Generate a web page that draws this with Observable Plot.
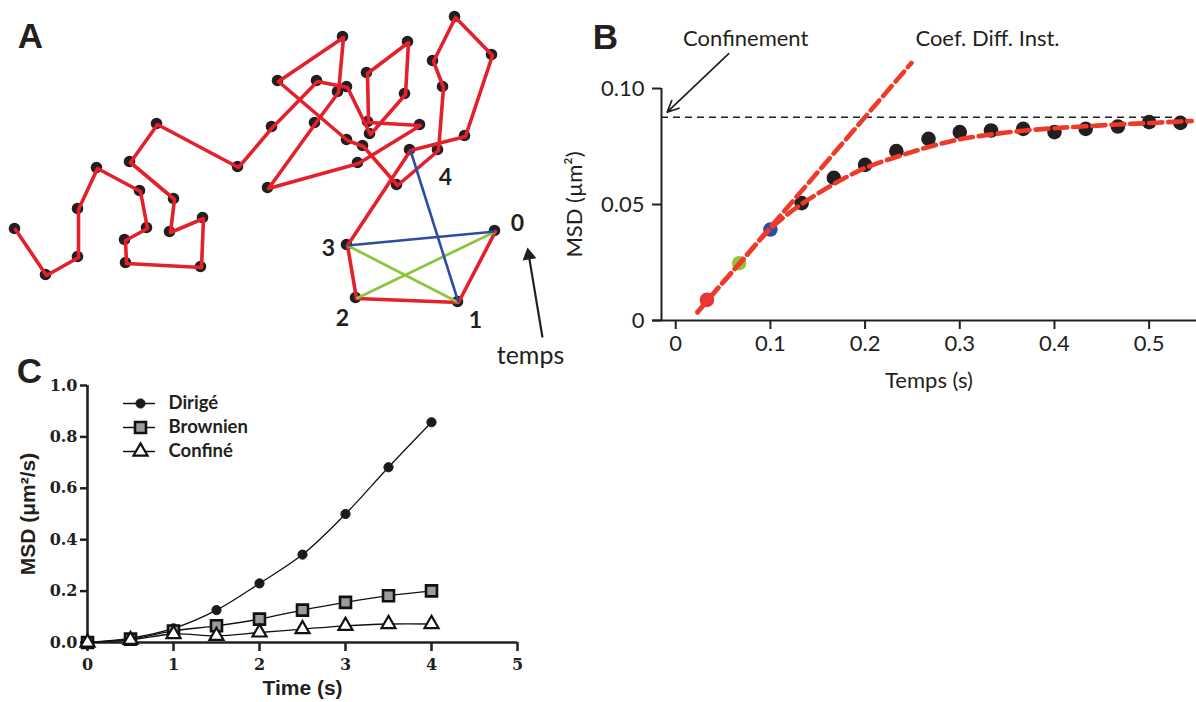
<!DOCTYPE html>
<html>
<head>
<meta charset="utf-8">
<script src="https://cdn.jsdelivr.net/npm/d3@7"></script>
<script src="https://cdn.jsdelivr.net/npm/@observablehq/plot@0.6"></script>
<style>
  html,body{margin:0;padding:0;background:#fff;}
  #fig{position:relative;width:1196px;height:702px;overflow:hidden;background:#fff;}
  #fig svg{position:absolute;overflow:visible;max-width:none;}
</style>
</head>
<body>
<div id="fig"></div>
<script>
// ---------------- DATA ----------------
// Panel A: trajectory positions (image units)
const trajX = [15,46,78,78,97,140,147,125,126,201,203,170,174,130,157,238,272,317,347,370,405,408,367,368,420,358,268,315,338,343,278,347,363,397,438,443,433,455,492,465,410,347,356,458,495];
const trajY = [229,275,257,209,168,191,228,240,263,267,218,232,199,162,124,167,127,81,87,134,94,42,73,122,125,163,188,123,92,37,81,140,146,185,150,87,61,17,55,136,150,245,298,302,231];
const stepNames = ["0","1","2","3","4"];
const stepIndex = [44,43,42,41,40];
const greenPairs = [[41,43],[42,44]];
const bluePairs = [[40,43],[41,44]];
const timeArrowX = [542,527];
const timeArrowY = [337,247];
const timeLabel = "temps";

// Panel B: MSD vs time
const bTime = [0.033,0.067,0.1,0.133,0.167,0.2,0.233,0.267,0.3,0.333,0.367,0.4,0.433,0.467,0.5,0.533];
const bMSD  = [0.0089,0.0247,0.0392,0.0506,0.0615,0.0671,0.073,0.0783,0.0812,0.0819,0.0826,0.0812,0.0826,0.0836,0.0855,0.0852];
const fitTime = [0.023,0.05,0.075,0.1,0.133,0.167,0.2,0.233,0.267,0.3,0.333,0.367,0.4,0.433,0.467,0.5,0.533,0.545];
const fitMSD  = [0.0036,0.0165,0.028,0.0395,0.0502,0.0588,0.0657,0.0705,0.0748,0.0781,0.0802,0.0818,0.0829,0.0837,0.0845,0.0851,0.0858,0.086];
const tanTime = [0.023,0.249];
const tanMSD  = [0.0036,0.111];
const confLevel = 0.0876;
const confArrowTime = [0.056,-0.009];
const confArrowMSD  = [0.115,0.0898];
const bXTicks = [0,0.1,0.2,0.3,0.4,0.5];
const bYTicks = [0,0.05,0.1];

// Panel C: MSD for three motion types
const cTime = [0,0.5,1,1.5,2,2.5,3,3.5,4];
const cSeries = ["Dirigé","Brownien","Confiné"];
const cDirige   = [0,0.017,0.055,0.126,0.23,0.342,0.5,0.682,0.857];
const cBrownien = [0,0.013,0.045,0.065,0.091,0.126,0.156,0.182,0.201];
const cConfine  = [0,0.01,0.033,0.026,0.039,0.052,0.065,0.072,0.072];
const cXTicks = [0,1,2,3,4,5];
const cYTicks = [0,0.2,0.4,0.6,0.8,1.0];

// ---------------- STYLES ----------------
const INK = "#231f20";
const RED = "#e4202a";
const FITRED = "#ee3a28";
const GREEN = "#8cc63f";
const BLUE = "#2d4ca3";
const bHighlight = ["#e83336", GREEN, BLUE];
const panelFont = "Liberation Sans";
const seriesStyle = {
  "Dirigé":   {symbol:"circle",   fill:"#1a1a1a", stroke:"#1a1a1a", r:4.6, sw:1},
  "Brownien": {symbol:"square",   fill:"#9b9b9b", stroke:"#111",    r:6.2, sw:2.6},
  "Confiné":  {symbol:"triangle", fill:"#ffffff", stroke:"#111",    r:5.2, sw:2.2}
};
const labelOffsets = [[22,-8],[17,18],[-14,20],[-19,3],[35,27]];
const centered = {textAnchor:"middle", lineAnchor:"middle"};

const fig = document.getElementById("fig");
function place(svg, left, top){ svg.style.left = left+"px"; svg.style.top = top+"px"; fig.appendChild(svg); }

// ---------------- PANEL A ----------------
const traj = trajX.map((x,i)=>({x, y:trajY[i]}));
const toLinks = pairs => pairs.map(([a,b])=>({x1:trajX[a],y1:trajY[a],x2:trajX[b],y2:trajY[b]}));
const ax = timeArrowX, ay = timeArrowY;
const alen = Math.hypot(ax[1]-ax[0], ay[1]-ay[0]);
const ux = (ax[1]-ax[0])/alen, uy = (ay[1]-ay[0])/alen;
const headAngle = Math.atan2(ux, -uy)*180/Math.PI;

const plotA = Plot.plot({
  width: 600, height: 380, margin: 0,
  x: {domain:[0,600], axis:null},
  y: {domain:[0,380], reverse:true, axis:null},
  style: {background:"transparent", overflow:"visible", color: INK},
  marks: [
    Plot.dot(traj, {x:"x", y:"y", r:5.8, fill:INK, dx:-1, dy:-1}),
    Plot.line(traj, {x:"x", y:"y", stroke:RED, strokeWidth:3.6, strokeLinejoin:"round"}),
    Plot.link(toLinks(greenPairs), {x1:"x1", y1:"y1", x2:"x2", y2:"y2", stroke:GREEN, strokeWidth:2.8}),
    Plot.link(toLinks(bluePairs), {x1:"x1", y1:"y1", x2:"x2", y2:"y2", stroke:BLUE, strokeWidth:2.6}),
    ...stepNames.map((s,k)=>Plot.text([s], {
      x: ()=>trajX[stepIndex[k]], y: ()=>trajY[stepIndex[k]], text: d=>d,
      dx: labelOffsets[k][0], dy: labelOffsets[k][1], ...centered,
      fontFamily:"Lato", fontWeight:"bold", fontSize:23, fill:INK
    })),
    Plot.link([0], {x1:()=>ax[0], y1:()=>ay[0], x2:()=>ax[1]-ux*8, y2:()=>ay[1]-uy*8, stroke:INK, strokeWidth:2.2}),
    Plot.dot([0], {x:()=>ax[1]-ux*8, y:()=>ay[1]-uy*8, symbol:"triangle", r:5.2, fill:INK, rotate:headAngle}),
    Plot.text([timeLabel], {x:()=>ax[0], y:()=>ay[0], text:d=>d, dx:-12, dy:18, ...centered, fontFamily:"Lato", fontSize:25, fill:INK}),
    Plot.text(["A"], {frameAnchor:"top-left", dx:30, dy:36, text:d=>d, ...centered, fontFamily:panelFont, fontWeight:"bold", fontSize:35, fill:INK})
  ]
});
place(plotA, 0, 0);

// ---------------- PANEL B ----------------
const bPoints = bTime.map((t,i)=>({t, msd:bMSD[i], i}));
const fit = fitTime.map((t,i)=>({t, msd:fitMSD[i]}));
const tan = tanTime.map((t,i)=>({t, msd:tanMSD[i]}));
const bFont = "Lato";
const plotB = Plot.plot({
  width: 636, height: 400,
  marginLeft: 101, marginRight: 0, marginTop: 88, marginBottom: 80,
  x: {domain:[-0.015,0.55]},
  y: {domain:[0,0.1]},
  style: {background:"transparent", overflow:"visible", fontFamily:bFont, fontSize:"22px", color:INK},
  marks: [
    Plot.ruleY([confLevel], {x1:-0.015, x2:0.535, stroke:INK, strokeWidth:1.6, strokeDasharray:"7,5"}),
    Plot.ruleX([-0.015], {y1:0, y2:0.1, stroke:INK, strokeWidth:2}),
    Plot.ruleY([0], {x1:-0.024, x2:0.55, stroke:INK, strokeWidth:2}),
    Plot.axisY({ticks:bYTicks, tickSize:9, tickPadding:8, strokeWidth:2, label:null,
      tickFormat: d => d===0 ? "0" : d3.format(".2f")(d), fontSize:22, fontFamily:bFont}),
    Plot.axisX({ticks:bXTicks, tickSize:9, tickPadding:6, strokeWidth:2, label:null,
      tickFormat: d => d===0 ? "0" : d3.format(".1f")(d), fontSize:22, fontFamily:bFont}),
    Plot.dot(bPoints, {x:"t", y:"msd", r:7.3, fill: d => d.i < 3 ? bHighlight[d.i] : INK}),
    Plot.line(fit, {x:"t", y:"msd", curve:"natural", stroke:FITRED, strokeWidth:4.6, strokeDasharray:"13,6"}),
    Plot.line(tan, {x:"t", y:"msd", stroke:FITRED, strokeWidth:4.6, strokeDasharray:"13,6"}),
    Plot.arrow([0], {x1:()=>confArrowTime[0], y1:()=>confArrowMSD[0], x2:()=>confArrowTime[1], y2:()=>confArrowMSD[1],
      stroke:INK, strokeWidth:1.7, headLength:11, headAngle:50}),
    Plot.text(["Confinement"], {x:()=>confArrowTime[0], y:()=>confArrowMSD[0], text:d=>d, dx:17, dy:-15, ...centered, fontSize:22, fill:INK}),
    Plot.text(["Coef. Diff. Inst."], {x:()=>tanTime[1], y:()=>tanMSD[1], text:d=>d, dx:76, dy:-24, ...centered, fontSize:22, fill:INK}),
    Plot.text(["Temps (s)"], {frameAnchor:"bottom", text:d=>d, dy:60, ...centered, fontSize:22, fill:INK}),
    Plot.text(["MSD (µm²)"], {frameAnchor:"left", text:d=>d, dx:-87, rotate:-90, ...centered, fontSize:22, fill:INK}),
    Plot.text(["B"], {frameAnchor:"top-left", text:d=>d, dx:-56, dy:-51, ...centered, fontFamily:panelFont, fontWeight:"bold", fontSize:35, fill:INK})
  ]
});
place(plotB, 560, 0);

// ---------------- PANEL C ----------------
const cValues = {"Dirigé":cDirige, "Brownien":cBrownien, "Confiné":cConfine};
const cData = cSeries.flatMap(s => cTime.map((t,i)=>({series:s, t, msd:cValues[s][i]})));
const seriesMarks = cSeries.flatMap(s => {
  const st = seriesStyle[s];
  const d = cData.filter(r=>r.series===s);
  return [
    Plot.line(d, {x:"t", y:"msd", curve:"catmull-rom", stroke:"#111", strokeWidth:1.3}),
    Plot.dot(d, {x:"t", y:"msd", symbol:st.symbol, r:st.r, fill:st.fill, stroke:st.stroke, strokeWidth:st.sw})
  ];
});
const cTickFont = "DejaVu Serif";
const plotC = Plot.plot({
  width: 560, height: 342,
  marginLeft: 87, marginRight: 43, marginTop: 25, marginBottom: 60,
  x: {domain:[0,5]},
  y: {domain:[0,1]},
  style: {background:"transparent", overflow:"visible", color:INK},
  marks: [
    Plot.axisY({ticks:cYTicks, tickSize:7, tickPadding:3, strokeWidth:2.5, label:null,
      tickFormat: d => d3.format(".1f")(d), fontFamily:cTickFont, fontWeight:"bold", fontSize:16}),
    Plot.axisX({ticks:cXTicks, tickSize:9, tickPadding:7, strokeWidth:2.5, label:null,
      tickFormat: d => String(d), fontFamily:cTickFont, fontWeight:"bold", fontSize:16}),
    Plot.ruleX([0], {y1:0, y2:1, stroke:INK, strokeWidth:2.6}),
    Plot.ruleY([0], {x1:0, x2:5, stroke:INK, strokeWidth:2.6}),
    ...seriesMarks,
    Plot.text(["Time (s)"], {frameAnchor:"bottom", text:d=>d, dy:46, ...centered, fontFamily:panelFont, fontWeight:"bold", fontSize:21, fill:INK}),
    Plot.text(["MSD (μm²/s)"], {frameAnchor:"left", text:d=>d, dx:-59, dy:0, rotate:-90, ...centered, fontFamily:panelFont, fontWeight:"bold", fontSize:21, fill:INK}),
    Plot.text(["C"], {frameAnchor:"top-left", text:d=>d, dx:-58, dy:-14, ...centered, fontFamily:panelFont, fontWeight:"bold", fontSize:35, fill:INK})
  ]
});
place(plotC, 0, 360);

// Legend for panel C
const legend = Plot.plot({
  width: 170, height: 74, marginLeft: 0, marginRight: 0, marginTop: 13, marginBottom: 13,
  x: {domain:[0,170], axis:null},
  y: {type:"point", domain:cSeries, padding:0, axis:null},
  style: {background:"transparent", overflow:"visible", color:INK},
  marks: [
    Plot.ruleY(cSeries, {y:d=>d, x1:0, x2:32, stroke:"#111", strokeWidth:1.5}),
    ...cSeries.map(s => {
      const st = seriesStyle[s];
      return Plot.dot([s], {y:d=>d, x:17, symbol:st.symbol, r:st.r, fill:st.fill, stroke:st.stroke, strokeWidth:st.sw});
    }),
    Plot.text(cSeries, {y:d=>d, x:45, text:d=>d, textAnchor:"start", fontFamily:"Lato", fontWeight:"bold", fontSize:18.5, fill:INK})
  ]
});
place(legend, 123, 390);
</script>
</body>
</html>
